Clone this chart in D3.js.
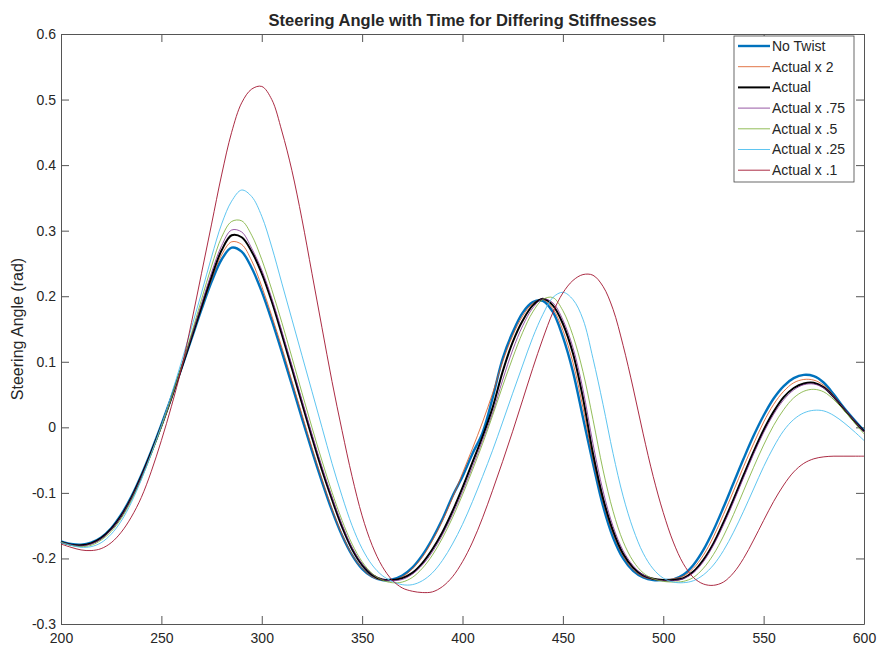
<!DOCTYPE html>
<html>
<head>
<meta charset="utf-8">
<script src="https://cdn.jsdelivr.net/npm/d3@7"></script>
<style>
  body { margin: 0; background: #fff; }
  text { font-family: "Liberation Sans", Arial, Helvetica, sans-serif; fill: #262626; }
</style>
</head>
<body>
<script>
// sample times (x axis)
const time = [200, 205, 210, 215, 220, 225, 230, 235, 240, 245,
  250, 255, 260, 265, 270, 275, 280, 285, 290, 295,
  300, 305, 310, 315, 320, 325, 330, 335, 340, 345,
  350, 355, 360, 365, 370, 375, 380, 385, 390, 395,
  400, 405, 410, 415, 420, 425, 430, 435, 440, 445,
  450, 455, 460, 465, 470, 475, 480, 485, 490, 495,
  500, 505, 510, 515, 520, 525, 530, 535, 540, 545,
  550, 555, 560, 565, 570, 575, 580, 585, 590, 595,
  600];

const noTwist = [-0.174, -0.178, -0.179, -0.176, -0.168, -0.154, -0.133, -0.106, -0.073, -0.036,
  0.004, 0.046, 0.090, 0.135, 0.180, 0.222, 0.256, 0.274, 0.268, 0.243,
  0.207, 0.163, 0.115, 0.065, 0.014, -0.036, -0.083, -0.127, -0.165, -0.195,
  -0.216, -0.228, -0.233, -0.232, -0.226, -0.214, -0.195, -0.170, -0.140, -0.105,
  -0.075, -0.040, -0.008, 0.045, 0.105, 0.145, 0.175, 0.191, 0.193, 0.176,
  0.138, 0.085, 0.015, -0.055, -0.120, -0.168, -0.200, -0.219, -0.229, -0.233,
  -0.233, -0.232, -0.225, -0.210, -0.187, -0.157, -0.122, -0.085, -0.048, -0.013,
  0.018, 0.044, 0.063, 0.075, 0.080, 0.078, 0.068, 0.050, 0.030, 0.012,
  -0.005];

const actualX2 = [-0.175, -0.179, -0.180, -0.177, -0.169, -0.155, -0.134, -0.107, -0.074, -0.037,
  0.003, 0.046, 0.090, 0.136, 0.182, 0.226, 0.263, 0.283, 0.279, 0.254,
  0.215, 0.170, 0.122, 0.071, 0.020, -0.031, -0.079, -0.124, -0.163, -0.194,
  -0.215, -0.228, -0.233, -0.233, -0.228, -0.216, -0.198, -0.173, -0.143, -0.108,
  -0.070, -0.032, 0.008, 0.052, 0.100, 0.140, 0.170, 0.189, 0.195, 0.181,
  0.148, 0.099, 0.030, -0.048, -0.113, -0.162, -0.196, -0.217, -0.228, -0.232,
  -0.233, -0.231, -0.227, -0.215, -0.195, -0.167, -0.133, -0.097, -0.060, -0.025,
  0.008, 0.035, 0.055, 0.068, 0.073, 0.072, 0.064, 0.048, 0.029, 0.011,
  -0.006];

const actual = [-0.175, -0.179, -0.180, -0.177, -0.169, -0.155, -0.135, -0.108, -0.075, -0.038,
  0.002, 0.045, 0.090, 0.137, 0.184, 0.230, 0.270, 0.293, 0.290, 0.268,
  0.235, 0.192, 0.142, 0.090, 0.037, -0.015, -0.065, -0.110, -0.152, -0.186,
  -0.210, -0.225, -0.232, -0.233, -0.230, -0.222, -0.207, -0.186, -0.160, -0.128,
  -0.092, -0.053, -0.014, 0.030, 0.085, 0.130, 0.163, 0.186, 0.196, 0.186,
  0.158, 0.113, 0.045, -0.040, -0.108, -0.158, -0.193, -0.214, -0.226, -0.231,
  -0.233, -0.233, -0.230, -0.220, -0.202, -0.177, -0.145, -0.110, -0.073, -0.037,
  -0.004, 0.024, 0.046, 0.060, 0.067, 0.068, 0.061, 0.046, 0.028, 0.010,
  -0.006];

const actualX075 = [-0.175, -0.179, -0.181, -0.178, -0.170, -0.156, -0.136, -0.109, -0.076, -0.039,
  0.001, 0.045, 0.091, 0.139, 0.188, 0.236, 0.277, 0.301, 0.298, 0.273,
  0.240, 0.197, 0.147, 0.095, 0.042, -0.010, -0.060, -0.106, -0.148, -0.183,
  -0.208, -0.224, -0.232, -0.234, -0.232, -0.224, -0.210, -0.190, -0.164, -0.133,
  -0.098, -0.060, -0.020, 0.022, 0.072, 0.118, 0.155, 0.182, 0.196, 0.190,
  0.164, 0.122, 0.058, -0.025, -0.097, -0.151, -0.188, -0.211, -0.225, -0.231,
  -0.234, -0.234, -0.231, -0.222, -0.205, -0.180, -0.149, -0.114, -0.077, -0.041,
  -0.008, 0.020, 0.042, 0.057, 0.065, 0.066, 0.060, 0.046, 0.029, 0.011,
  -0.007];

const actualX05 = [-0.175, -0.180, -0.182, -0.180, -0.172, -0.159, -0.139, -0.112, -0.079, -0.041,
  0.000, 0.045, 0.093, 0.143, 0.195, 0.246, 0.290, 0.314, 0.315, 0.293,
  0.256, 0.210, 0.160, 0.107, 0.053, 0.000, -0.051, -0.099, -0.142, -0.178,
  -0.205, -0.223, -0.233, -0.237, -0.236, -0.229, -0.215, -0.195, -0.169, -0.138,
  -0.103, -0.065, -0.025, 0.018, 0.063, 0.106, 0.145, 0.176, 0.195, 0.198,
  0.178, 0.140, 0.085, 0.012, -0.065, -0.128, -0.174, -0.204, -0.222, -0.231,
  -0.235, -0.236, -0.235, -0.229, -0.215, -0.194, -0.166, -0.133, -0.097, -0.061,
  -0.027, 0.003, 0.027, 0.045, 0.055, 0.058, 0.054, 0.042, 0.026, 0.008,
  -0.010];

const actualX025 = [-0.176, -0.180, -0.183, -0.182, -0.176, -0.163, -0.143, -0.115, -0.080, -0.040,
  0.003, 0.050, 0.100, 0.152, 0.205, 0.260, 0.310, 0.345, 0.362, 0.352,
  0.322, 0.275, 0.220, 0.165, 0.110, 0.055, 0.000, -0.055, -0.105, -0.150,
  -0.185, -0.210, -0.226, -0.235, -0.240, -0.240, -0.234, -0.222, -0.203, -0.178,
  -0.148, -0.113, -0.075, -0.035, 0.008, 0.052, 0.095, 0.137, 0.172, 0.198,
  0.206, 0.195, 0.165, 0.105, 0.035, -0.040, -0.105, -0.155, -0.192, -0.216,
  -0.230, -0.236, -0.237, -0.234, -0.225, -0.210, -0.188, -0.160, -0.128, -0.094,
  -0.060, -0.030, -0.005, 0.012, 0.022, 0.026, 0.025, 0.018, 0.007, -0.006,
  -0.020];

const actualX01 = [-0.178, -0.183, -0.187, -0.188, -0.185, -0.176, -0.160, -0.137, -0.107, -0.067,
  -0.020, 0.032, 0.090, 0.160, 0.235, 0.310, 0.385, 0.450, 0.495, 0.516,
  0.520, 0.500, 0.452, 0.392, 0.318, 0.235, 0.152, 0.070, -0.005, -0.075,
  -0.135, -0.180, -0.212, -0.233, -0.245, -0.250, -0.252, -0.251, -0.243, -0.228,
  -0.205, -0.175, -0.138, -0.096, -0.052, -0.006, 0.042, 0.090, 0.135, 0.175,
  0.205, 0.224, 0.233, 0.232, 0.215, 0.180, 0.125, 0.060, -0.010, -0.075,
  -0.130, -0.175, -0.208, -0.229, -0.239, -0.241, -0.236, -0.222, -0.200, -0.172,
  -0.142, -0.113, -0.088, -0.068, -0.055, -0.048, -0.045, -0.044, -0.044, -0.044,
  -0.044];

const seriesNames = ["No Twist", "Actual x 2", "Actual", "Actual x .75", "Actual x .5", "Actual x .25", "Actual x .1"];
const seriesValues = [noTwist, actualX2, actual, actualX075, actualX05, actualX025, actualX01];
const xTicks = [200, 250, 300, 350, 400, 450, 500, 550, 600];
const yTicks = [-0.3, -0.2, -0.1, 0, 0.1, 0.2, 0.3, 0.4, 0.5, 0.6];

// line looks (matlab default colour order, black set by hand)
const colors = ["#0072BD", "#D95319", "#000000", "#7E2F8E", "#77AC30", "#4DBEEE", "#A2142F"];
const widths = [2.4, 0.8, 2, 0.8, 0.8, 0.9, 0.9];

const w = 877, h = 645;
const margin = {top: 34, right: 13, bottom: 21, left: 61};

const svg = d3.select("body").append("svg")
  .attr("width", w)
  .attr("height", h);

const xScale = d3.scaleLinear().domain([200, 600]).range([margin.left, w - margin.right]);
const yScale = d3.scaleLinear().domain([-0.3, 0.6]).range([h - margin.bottom, margin.top]);

const axisColor = "#555";
const fmt = d => String(+d.toFixed(1));

function styleAxis(g) {
  g.selectAll("path").attr("stroke", axisColor);
  g.selectAll("line").attr("stroke", axisColor);
  g.selectAll("text").style("font-size", "14px").attr("fill", "#262626");
}

svg.append("g")
  .attr("transform", "translate(0," + (h - margin.bottom) + ")")
  .call(d3.axisBottom(xScale).tickValues(xTicks).tickSizeInner(-8).tickSizeOuter(0).tickPadding(9))
  .call(styleAxis);

svg.append("g")
  .attr("transform", "translate(0," + margin.top + ")")
  .call(d3.axisTop(xScale).tickValues(xTicks).tickSizeInner(-8).tickSizeOuter(0).tickFormat(""))
  .call(styleAxis);

svg.append("g")
  .attr("transform", "translate(" + margin.left + ",0)")
  .call(d3.axisLeft(yScale).tickValues(yTicks).tickSizeInner(-8).tickSizeOuter(0).tickPadding(5).tickFormat(fmt))
  .call(styleAxis);

svg.append("g")
  .attr("transform", "translate(" + (w - margin.right) + ",0)")
  .call(d3.axisRight(yScale).tickValues(yTicks).tickSizeInner(-8).tickSizeOuter(0).tickFormat(""))
  .call(styleAxis);

svg.selectAll(".domain").attr("fill", "none");

const line = d3.line()
  .x((d, i) => xScale(time[i]))
  .y(d => yScale(d))
  .curve(d3.curveCatmullRom);

svg.append("g")
  .selectAll("path")
  .data(seriesValues)
  .enter()
  .append("path")
  .attr("d", d => line(d))
  .attr("fill", "none")
  .attr("stroke", (d, i) => colors[i])
  .attr("stroke-width", (d, i) => widths[i])
  .attr("stroke-linejoin", "round");

// title and y label
svg.append("text")
  .attr("x", (margin.left + w - margin.right) / 2)
  .attr("y", 26)
  .attr("text-anchor", "middle")
  .style("font-size", "16.5px")
  .style("font-weight", "bold")
  .text("Steering Angle with Time for Differing Stiffnesses");

svg.append("text")
  .attr("transform", "translate(23," + (margin.top + h - margin.bottom) / 2 + ") rotate(-90)")
  .attr("text-anchor", "middle")
  .style("font-size", "16px")
  .text("Steering Angle (rad)");

// legend
const legendX = 734, legendY = 36, rowH = 20.7;
const legend = svg.append("g");
legend.append("rect")
  .attr("x", legendX)
  .attr("y", legendY)
  .attr("width", 120)
  .attr("height", 146)
  .attr("fill", "#fff")
  .attr("stroke", "#444")
  .attr("stroke-width", 0.8);

const item = legend.selectAll("g.item")
  .data(seriesNames)
  .enter()
  .append("g")
  .attr("class", "item")
  .attr("transform", (d, i) => "translate(" + legendX + "," + (legendY + 10 + rowH * i) + ")");

item.append("line")
  .attr("x1", 4)
  .attr("x2", 36)
  .attr("stroke", (d, i) => colors[i])
  .attr("stroke-width", (d, i) => widths[i]);

item.append("text")
  .attr("x", 38)
  .attr("dy", "0.35em")
  .style("font-size", "14px")
  .text(d => d);
</script>
</body>
</html>
